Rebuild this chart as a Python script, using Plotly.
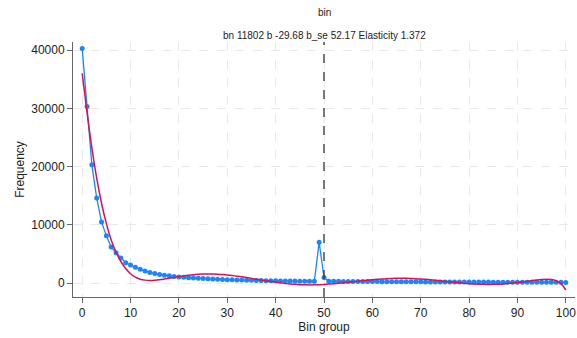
import plotly.graph_objects as go

bins = list(range(0, 101))
frequency = [
    40300, 30300, 20300, 14600, 10500, 8100, 6200, 5200, 4300, 3500,
    3100, 2700, 2350, 2060, 1800, 1620, 1470, 1340, 1230, 1130,
    1050, 980, 920, 860, 810, 760, 720, 680, 640, 610,
    580, 550, 520, 500, 480, 460, 440, 420, 400, 390,
    375, 360, 350, 340, 330, 320, 310, 300, 290, 7000,
    950, 300, 290, 285, 280, 275, 270, 265, 260, 255,
    250, 245, 240, 235, 230, 225, 220, 215, 210, 205,
    200, 197, 194, 191, 188, 185, 182, 179, 176, 173,
    170, 167, 164, 161, 158, 155, 152, 149, 146, 143,
    140, 137, 134, 131, 128, 125, 122, 119, 116, 113,
    110,
]
fitted = [
    36000, 29300, 23200, 18000, 13700, 10200, 7400, 5300, 3700, 2500,
    1600, 1000, 650, 500, 450, 480, 560, 680, 820, 960,
    1100, 1230, 1340, 1430, 1500, 1540, 1560, 1550, 1520, 1460,
    1380, 1290, 1180, 1060, 930, 800, 660, 520, 390, 260,
    140, 30, -70, -160, -230, -280, -310, -320, -310, -280,
    -240, -180, -110, -30, 50, 140, 230, 320, 410, 490,
    570, 640, 700, 750, 780, 800, 810, 800, 780, 750,
    700, 640, 570, 490, 400, 310, 220, 130, 40, -40,
    -110, -170, -210, -230, -240, -230, -200, -150, -80, 0,
    100, 200, 310, 420, 520, 600, 650, 600, 400, -100,
    -1200,
]
cutoff = 50
x_ticks = [0, 10, 20, 30, 40, 50, 60, 70, 80, 90, 100]
y_ticks = [0, 10000, 20000, 30000, 40000]
y_tick_labels = ["0", "10000", "20000", "30000", "40000"]
title_main = "bin"
subtitle = "bn 11802 b -29.68 b_se 52.17 Elasticity 1.372"

fig = go.Figure()
fig.add_trace(go.Scatter(
    x=bins, y=frequency, mode="lines+markers",
    line=dict(color="#1A85FF", width=1.3),
    marker=dict(color="#1A85FF", size=5),
    showlegend=False,
))
fig.add_trace(go.Scatter(
    x=bins, y=fitted, mode="lines", line_shape="spline",
    line=dict(color="#D41159", width=1.5),
    showlegend=False,
))
fig.add_vline(x=cutoff, line=dict(color="#333333", width=1.3, dash="dash"))

fig.update_layout(
    width=577, height=338,
    margin=dict(l=73, r=2, t=42, b=41),
    paper_bgcolor="white", plot_bgcolor="white",
    font=dict(family="Liberation Sans, Arial, sans-serif", color="#222222"),
    annotations=[
        dict(text=title_main, x=0.5, y=1, xref="paper", yref="paper",
             xanchor="center", yanchor="bottom", yshift=22, showarrow=False,
             font=dict(size=10)),
        dict(text=subtitle, x=0.5, y=1, xref="paper", yref="paper",
             xanchor="center", yanchor="bottom", yshift=-1, showarrow=False,
             font=dict(size=10)),
    ],
)
fig.update_xaxes(
    range=[-1.9, 101.9], tickvals=x_ticks, ticks="outside", ticklen=5,
    tickcolor="#666666", showline=True, linecolor="#666666", linewidth=1,
    showgrid=True, gridcolor="#e8e8e8", griddash="dash", gridwidth=1,
    zeroline=False, tickfont=dict(size=12), automargin=False,
    title=dict(text="Bin group", font=dict(size=12), standoff=2),
)
fig.update_yaxes(
    range=[-2400, 41400], tickvals=y_ticks, ticktext=y_tick_labels,
    ticks="outside", ticklen=5,
    tickcolor="#666666", showline=True, linecolor="#666666", linewidth=1,
    showgrid=True, gridcolor="#e8e8e8", griddash="dash", gridwidth=1,
    zeroline=False, tickfont=dict(size=12), automargin=False,
    title=dict(text="Frequency", font=dict(size=12), standoff=4),
)
fig.write_html(
    "out.html",
    config={"displayModeBar": False},
    post_script="document.body.style.margin='0';document.body.style.padding='0';",
)
